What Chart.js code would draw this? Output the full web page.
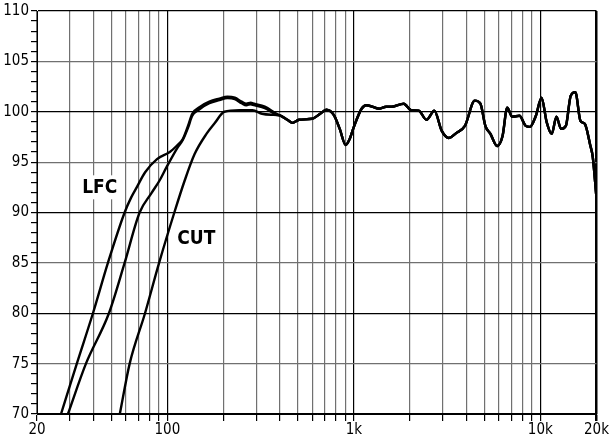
<!DOCTYPE html>
<html>
<head>
<meta charset="utf-8">
<script src="https://cdn.jsdelivr.net/npm/chart.js@4/dist/chart.umd.min.js"></script>
<style>
    html, body { margin: 0; padding: 0; background: #fff; }
    #wrap { width: 609px; height: 441px; }
</style>
</head>
<body>
<div id="wrap"><canvas id="fr-chart"></canvas></div>
<script>
// low end of each curve (Hz, dB)
const lfcFreq = [26.9, 32.7, 39.9, 48, 59, 64, 68.5, 76, 88, 103, 112, 121, 129, 136, 150, 168, 190, 210, 230, 250, 265, 280, 292, 333, 385];
const lfcDb   = [70, 75, 80, 85, 90, 91.5, 92.5, 94, 95.3, 96, 96.6, 97.3, 98.6, 99.8, 100.5, 101, 101.3, 101.5, 101.4, 101, 100.8, 100.9, 100.8, 100.5, 99.8];

const midFreq = [29.3, 36.6, 48.6, 59, 71, 82, 91, 99, 113, 121, 129, 136, 150, 168, 190, 210, 230, 250, 265, 280, 292, 333, 385];
const midDb   = [70, 75, 80, 85, 90, 91.9, 93.2, 94.5, 96.4, 97.2, 98.4, 99.6, 100.3, 100.85, 101.15, 101.35, 101.25, 100.85, 100.65, 100.75, 100.65, 100.35, 99.7];

const cutFreq = [55.6, 62.8, 75.9, 90.3, 109, 124, 140, 162, 180, 202, 243, 286, 322, 360];
const cutDb   = [70, 75, 80, 85, 90, 93.2, 95.8, 97.8, 98.9, 100, 100.15, 100.15, 99.8, 99.7];

// common part above ~400 Hz
const tailFreq = [400, 440, 469, 508, 597, 660, 712, 783, 840, 904, 950, 1000, 1100, 1170, 1370, 1490, 1600, 1850, 2030, 2230, 2450, 2700, 2960, 3230, 3550, 3940, 4450, 4770, 5070, 5400, 5860, 6270, 6640, 7070, 7720, 8350, 8780, 9460, 10150, 10800, 11500, 12200, 12900, 13700, 14550, 15400, 16400, 17300, 18500, 19100, 20000];
const tailDb   = [99.65, 99.2, 98.9, 99.2, 99.3, 99.8, 100.2, 99.65, 98.3, 96.7, 97.3, 98.5, 100.3, 100.65, 100.3, 100.5, 100.5, 100.8, 100.15, 100.1, 99.2, 100.1, 98.1, 97.4, 97.9, 98.6, 101.1, 100.8, 98.6, 97.8, 96.6, 97.6, 100.4, 99.5, 99.6, 98.6, 98.5, 99.6, 101.4, 99.0, 97.8, 99.5, 98.3, 98.6, 101.6, 101.95, 99.1, 98.8, 96.7, 95.5, 91.4];

const xGridValues = [20, 30, 40, 50, 60, 70, 80, 90, 100, 200, 300, 400, 500, 600, 700, 800, 900, 1000, 2000, 3000, 4000, 5000, 6000, 7000, 8000, 9000, 10000, 20000];
const xTickLabels = { 20: '20', 100: '100', 1000: '1k', 10000: '10k', 20000: '20k' };

const curveLabels = ['LFC', 'CUT'];
const curveLabelFreq = [43.4, 143];
const curveLabelDb = [92.5, 87.5];

function toPoints(freq, db) {
    const pts = freq.map((f, i) => ({ x: f, y: db[i] }));
    return pts.concat(tailFreq.map((f, i) => ({ x: f, y: tailDb[i] })));
}

const tickFont = { family: "'Liberation Sans Narrow', 'DejaVu Sans Condensed', sans-serif", size: 15 };

const curveLabelPlugin = {
    id: 'curveLabels',
    afterDatasetsDraw(chart) {
        const ctx = chart.ctx;
        const xs = chart.scales.x, ys = chart.scales.y;
        ctx.save();
        ctx.font = "bold 19px 'DejaVu Sans Condensed', sans-serif";
        ctx.textAlign = 'center';
        ctx.textBaseline = 'middle';
        curveLabels.forEach((txt, i) => {
            const px = xs.getPixelForValue(curveLabelFreq[i]);
            const py = ys.getPixelForValue(curveLabelDb[i]);
            const w = ctx.measureText(txt).width;
            ctx.fillStyle = '#fff';
            ctx.fillRect(px - w / 2 - 4, py - 12, w + 8, 24);
            ctx.fillStyle = '#000';
            ctx.fillText(txt, px, py + 1);
        });
        ctx.restore();
    }
};

const lineStyle = { borderColor: '#000', borderWidth: 2.4, pointRadius: 0, cubicInterpolationMode: 'monotone', fill: false };

new Chart(document.getElementById('fr-chart'), {
    type: 'line',
    data: {
        datasets: [
            Object.assign({ label: 'LFC', data: toPoints(lfcFreq, lfcDb) }, lineStyle),
            Object.assign({ label: 'mid', data: toPoints(midFreq, midDb) }, lineStyle),
            Object.assign({ label: 'CUT', data: toPoints(cutFreq, cutDb) }, lineStyle)
        ]
    },
    options: {
        responsive: true,
        maintainAspectRatio: false,
        animation: false,
        layout: { padding: { top: 10, right: 10, left: 0, bottom: 0 } },
        plugins: { legend: { display: false }, tooltip: { enabled: false } },
        scales: {
            x: {
                type: 'logarithmic',
                min: 20,
                max: 20000,
                afterBuildTicks: (scale) => { scale.ticks = xGridValues.map(v => ({ value: v })); },
                afterFit: (scale) => { scale.height = 27; },
                border: { color: '#000', width: 1 },
                grid: {
                    color: (c) => {
                        const v = c.tick && c.tick.value;
                        return [100, 1000, 10000, 20000].includes(v) ? '#000' : '#707070';
                    },
                    lineWidth: (c) => (c.tick && c.tick.value === 20000) ? 2.5 : 1.2,
                    tickColor: '#000',
                    tickLength: 7
                },
                ticks: {
                    autoSkip: false,
                    maxRotation: 0,
                    color: '#000',
                    font: tickFont,
                    padding: 0,
                    callback: (v) => xTickLabels[v] || ''
                }
            },
            y: {
                min: 70,
                max: 110,
                afterFit: (scale) => { scale.width = 37; },
                border: { color: '#000', width: 1 },
                grid: {
                    color: (c) => {
                        const v = c.tick && c.tick.value;
                        if (v % 10 === 0) return '#000';
                        if (v % 5 === 0) return '#707070';
                        return 'rgba(0,0,0,0)';
                    },
                    lineWidth: 1.2,
                    tickColor: '#000',
                    tickLength: 6
                },
                ticks: {
                    stepSize: 1,
                    autoSkip: false,
                    color: '#000',
                    font: tickFont,
                    padding: 2,
                    callback: (v) => (v % 5 === 0 ? String(v) : '')
                }
            }
        }
    },
    plugins: [curveLabelPlugin]
});
</script>
</body>
</html>
